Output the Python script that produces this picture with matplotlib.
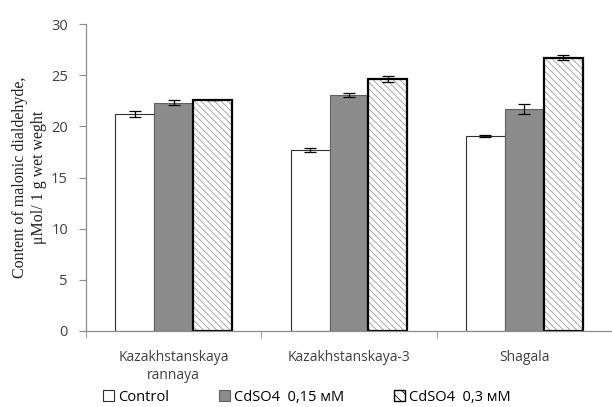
import numpy as np
import matplotlib.pyplot as plt
from matplotlib.patches import Patch

plt.rcParams['hatch.linewidth'] = 0.6

categories = ['Kazakhstanskaya\nrannaya', 'Kazakhstanskaya-3', 'Shagala']
control = [21.2, 17.7, 19.1]
control_err = [0.25, 0.2, 0.1]
cd015 = [22.3, 23.1, 21.7]
cd015_err = [0.25, 0.2, 0.5]
cd03 = [22.6, 24.6, 26.7]
cd03_err = [0.0, 0.3, 0.25]
series_names = ['Control', 'CdSO4  0,15 мМ', 'CdSO4  0,3 мМ']

font = 'Open Sans'
grey_txt = '#404040'
hatch_col = '#9a9a9a'

fig = plt.figure(figsize=(6.12, 4.07), dpi=100)
ax = fig.add_axes([86 / 612, 76 / 407, 526 / 612, 307 / 407])

x = np.arange(len(categories))
w = 0.222
ekw = dict(ecolor='black', elinewidth=0.9, capsize=4, capthick=0.9)

ax.bar(x - w, control, w, yerr=control_err, color='white', edgecolor='#303030',
       linewidth=0.8, error_kw=ekw)
ax.bar(x, cd015, w, yerr=cd015_err, color='#8c8c8c', edgecolor='#606060',
       linewidth=0.8, error_kw=ekw)
# hatched bars: hatch layer in grey, then black outline on top
ax.bar(x + w, cd03, w, color='white', edgecolor=hatch_col, linewidth=0,
       hatch='\\\\\\\\\\')
ax.bar(x + w, cd03, w, yerr=cd03_err, fill=False, edgecolor='black',
       linewidth=1.6, error_kw=ekw)

ax.set_xlim(-0.5, 2.5)
ax.set_ylim(0, 30)
ax.set_yticks(range(0, 31, 5))
ax.set_xticks(x)
ax.set_xticklabels(categories, fontfamily=font, fontsize=10, color=grey_txt)
ax.set_xticks(np.arange(-0.5, 3.0, 1.0), minor=True)
ax.tick_params(axis='x', which='major', length=0, pad=14)
ax.tick_params(axis='x', which='minor', length=5, color='#8c8c8c')
ax.tick_params(axis='y', length=5, color='#8c8c8c', labelsize=10.5,
               labelcolor=grey_txt, pad=8)
for lab in ax.get_yticklabels():
    lab.set_fontfamily(font)

for s in ['top', 'right']:
    ax.spines[s].set_visible(False)
for s in ['left', 'bottom']:
    ax.spines[s].set_color('#8c8c8c')
    ax.spines[s].set_linewidth(0.9)

ax.set_ylabel('Content of malonic dialdehyde,\nμMol/ 1 g wet weght',
              fontfamily='Liberation Serif', fontsize=11.5, labelpad=3,
              color='#202020', linespacing=1.25)

handles = [
    Patch(facecolor='white', edgecolor='#303030', linewidth=0.8),
    Patch(facecolor='#8c8c8c', edgecolor='#606060', linewidth=0.8),
    Patch(facecolor='white', edgecolor='black', linewidth=1.0, hatch='\\\\\\'),
]
fig.legend(handles, series_names, loc='lower left', bbox_to_anchor=(90 / 612, -0.027),
           ncol=3, frameon=False, handlelength=0.75, handleheight=0.75,
           handletextpad=0.3, columnspacing=3.4,
           prop={'family': font, 'size': 10.5})

fig.savefig('out.png', dpi=100)
